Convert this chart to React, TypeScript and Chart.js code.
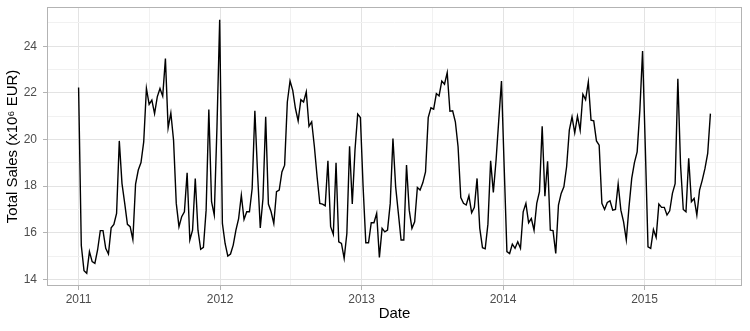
import React, { useEffect, useRef } from 'react';
import { Chart, registerables } from 'chart.js';

Chart.register(...registerables);

// Weekly series, first week starting 2011-01-01
const startDateUTC = Date.UTC(2011, 0, 1);
const weekDays = 7;

const sales: number[] = [
  22.23, 15.45, 14.37, 14.26, 15.19, 14.76, 14.69, 15.26, 16.09, 16.09,
  15.33, 15.09, 16.21, 16.36, 16.83, 19.94, 18.11, 17.26, 16.36, 16.26,
  15.71, 18.09, 18.69, 19.01, 19.9, 22.19, 21.51, 21.69, 21.11, 21.83,
  22.19, 21.86, 23.47, 20.5, 21.14, 19.97, 17.26, 16.26, 16.69, 16.9,
  18.57, 15.69, 16.11, 18.33, 16.11, 15.29, 15.37, 16.97, 21.29, 17.33,
  16.76, 20.54, 25.14, 16.4, 15.54, 15.0, 15.09, 15.47, 16.11, 16.61,
  17.61, 16.57, 16.9, 16.9, 17.9, 21.23, 18.54, 16.21, 17.47, 20.97,
  17.23, 16.9, 16.4, 17.76, 17.83, 18.61, 18.9, 21.61, 22.51, 22.11,
  21.33, 20.8, 21.71, 21.61, 22.04, 20.57, 20.76, 19.69, 18.4, 17.26,
  17.23, 17.16, 19.09, 16.26, 15.93, 19.0, 15.61, 15.54, 14.9, 15.97,
  19.71, 17.23, 19.54, 21.09, 20.94, 17.97, 15.57, 15.57, 16.43, 16.43,
  16.83, 14.94, 16.19, 16.04, 16.11, 17.26, 20.04, 17.97, 16.83, 15.69,
  15.69, 18.9, 16.97, 16.19, 16.47, 17.94, 17.83, 18.14, 18.61, 20.94,
  21.36, 21.3, 21.97, 21.87, 22.51, 22.37, 22.87, 21.21, 21.23, 20.76,
  19.69, 17.51, 17.26, 17.19, 17.59, 16.86, 17.09, 18.33, 16.19, 15.36,
  15.31, 16.37, 19.09, 17.73, 19.11, 20.83, 22.51, 18.8, 15.19, 15.11,
  15.51, 15.33, 15.61, 15.33, 16.9, 17.26, 16.43, 16.61, 16.11, 17.26,
  17.76, 20.57, 17.57, 19.07, 16.11, 16.09, 15.11, 17.19, 17.69, 17.97,
  18.83, 20.4, 20.97, 20.29, 21.0, 20.4, 21.94, 21.71, 22.47, 20.83,
  20.8, 19.94, 19.76, 17.26, 17.0, 17.3, 17.37, 16.97, 17.0, 18.09,
  16.97, 16.47, 15.69, 17.11, 18.33, 19.01, 19.47, 21.26, 23.8, 19.69,
  15.4, 15.33, 16.14, 15.8, 17.23, 17.09, 17.09, 16.76, 16.94, 17.69,
  18.11, 22.61, 18.9, 17.0, 16.9, 19.19, 17.33, 17.47, 16.76, 17.83,
  18.26, 18.76, 19.4, 21.11,
];

const xTickYears = [2011, 2012, 2013, 2014, 2015];
const yTickValues = [14, 16, 18, 20, 22, 24];
const xTitle = 'Date';
const yTitle = 'Total Sales (x10\u2076 EUR)';

function toDecimalYear(ms: number): number {
  const d = new Date(ms);
  const y = d.getUTCFullYear();
  const s = Date.UTC(y, 0, 1);
  const e = Date.UTC(y + 1, 0, 1);
  return y + (ms - s) / (e - s);
}

const points = sales.map((v, i) => ({
  x: toDecimalYear(startDateUTC + i * weekDays * 86400000),
  y: v,
}));

const xs = points.map((p) => p.x);
const ys = points.map((p) => p.y);
const xMinD = Math.min(...xs), xMaxD = Math.max(...xs);
const yMinD = Math.min(...ys), yMaxD = Math.max(...ys);
const xPad = (xMaxD - xMinD) * 0.05;
const yPad = (yMaxD - yMinD) * 0.05;

const isMajorX = (v: number) => xTickYears.some((t) => Math.abs(t - v) < 1e-6);
const isMajorY = (v: number) => yTickValues.some((t) => Math.abs(t - v) < 1e-6);

const FONT = '"Liberation Sans", Arial, Helvetica, sans-serif';

const panelBorder = {
  id: 'panelBorder',
  afterDraw(chart: any) {
    const { ctx, chartArea } = chart;
    const { left, top, right, bottom } = chartArea;
    ctx.save();
    ctx.strokeStyle = '#B3B3B3';
    ctx.lineWidth = 1;
    ctx.strokeRect(Math.round(left) + 0.5, Math.round(top) + 0.5, Math.round(right - left) - 1, Math.round(bottom - top) - 1);
    ctx.restore();
  },
};

export default function App() {
  const ref = useRef<HTMLCanvasElement | null>(null);

  useEffect(() => {
    if (!ref.current) return;
    const chart = new Chart(ref.current, {
      type: 'line',
      data: {
        datasets: [
          {
            data: points,
            borderColor: '#000000',
            borderWidth: 1.4,
            pointRadius: 0,
            tension: 0,
            fill: false,
          },
        ],
      },
      options: {
        animation: false,
        responsive: false,
        maintainAspectRatio: false,
        layout: { padding: { top: 7, right: 8, left: 0, bottom: 0 } },
        plugins: { legend: { display: false }, tooltip: { enabled: false } },
        scales: {
          x: {
            type: 'linear',
            min: xMinD - xPad,
            max: xMaxD + xPad,
            afterFit: (s: any) => {
              s.height = 45;
              s.paddingLeft = 0;
              s.paddingRight = 0;
            },
            border: { display: false },
            grid: {
              color: (c: any) => (isMajorX(c.tick.value) ? '#E3E3E3' : '#F1F1F1'),
              lineWidth: 1,
              tickLength: 4,
              tickColor: (c: any) => (isMajorX(c.tick.value) ? '#B3B3B3' : 'rgba(0,0,0,0)'),
              tickWidth: 1,
            },
            ticks: {
              stepSize: 0.5,
              includeBounds: false,
              autoSkip: false,
              maxRotation: 0,
              minRotation: 0,
              padding: 2,
              color: '#4D4D4D',
              font: { family: FONT, size: 12 },
              callback: (v: any) => (isMajorX(Number(v)) ? String(Math.round(Number(v))) : ''),
            },
            title: {
              display: true,
              text: xTitle,
              color: '#000000',
              font: { family: FONT, size: 15 },
              padding: { top: 0, bottom: 8 },
            },
          },
          y: {
            type: 'linear',
            min: yMinD - yPad,
            max: yMaxD + yPad,
            afterFit: (s: any) => {
              s.width = 47;
              s.paddingTop = 0;
              s.paddingBottom = 0;
            },
            border: { display: false },
            grid: {
              color: (c: any) => (isMajorY(c.tick.value) ? '#E3E3E3' : '#F1F1F1'),
              lineWidth: 1,
              tickLength: 4,
              tickColor: (c: any) => (isMajorY(c.tick.value) ? '#B3B3B3' : 'rgba(0,0,0,0)'),
              tickWidth: 1,
            },
            ticks: {
              stepSize: 1,
              includeBounds: false,
              autoSkip: false,
              padding: 6,
              color: '#4D4D4D',
              font: { family: FONT, size: 12 },
              callback: (v: any) => (isMajorY(Number(v)) ? String(Math.round(Number(v))) : ''),
            },
            title: {
              display: true,
              text: yTitle,
              color: '#000000',
              font: { family: FONT, size: 15 },
              padding: { top: 4, bottom: 0 },
            },
          },
        },
      },
      plugins: [panelBorder],
    });
    return () => chart.destroy();
  }, []);

  return (
    <div style={{ position: 'fixed', left: 0, top: 0, width: 750, height: 331, background: '#ffffff' }}>
      <canvas ref={ref} width={750} height={331} style={{ width: 750, height: 331, display: 'block' }} />
    </div>
  );
}
